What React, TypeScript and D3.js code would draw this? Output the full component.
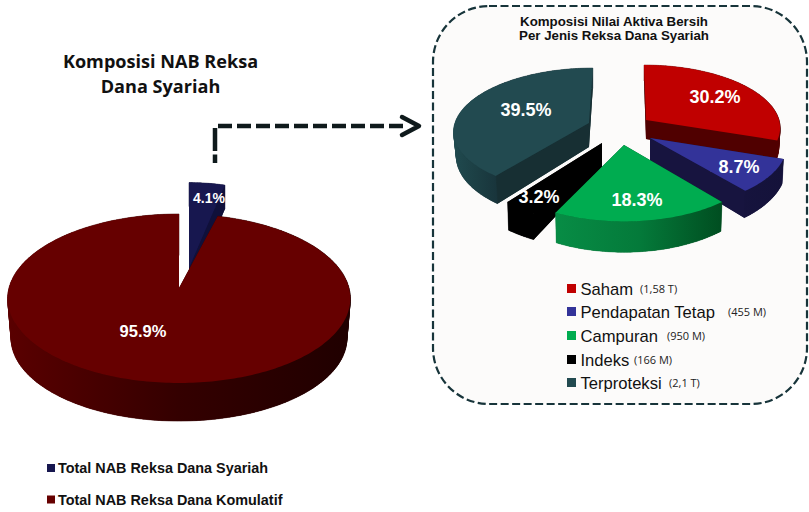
import React from "react";
import * as d3 from "d3";

const W = 809;
const H = 512;

// ---- data ----
const totalLabels = ["Total NAB Reksa Dana Syariah", "Total NAB Reksa Dana Komulatif"];
const totalValues = [4.1, 95.9];
const jenisLabels = ["Saham", "Pendapatan Tetap", "Campuran", "Indeks", "Terproteksi"];
const jenisAmounts = ["(1,58 T)", "(455 M)", "(950 M)", "(166 M)", "(2,1 T)"];
const jenisValues = [30.2, 8.7, 18.3, 3.2, 39.5];
const mainTitle = ["Komposisi NAB Reksa", "Dana Syariah"];
const boxTitle = ["Komposisi Nilai Aktiva Bersih", "Per Jenis Reksa Dana Syariah"];

// ---- styles and layout ----
const SANS = "'Liberation Sans', Arial, sans-serif";
const CAL = "'Open Sans', sans-serif";

type Geo = {
  cx: number; cy: number; R: number; Ry: number; p: number;
  depth: number; k: number; shrink: number; skew: number;
};
type Look = { top: string; cut: string; wall: [string, string, string]; x0: number; x1: number };

const totalGeo: Geo[] = [
  { cx: 189, cy: 268, R: 158, Ry: 96, p: 0.124, depth: 24, k: 0, shrink: 1, skew: 0 },
  { cx: 179, cy: 288, R: 170, Ry: 83.2, p: 0.124, depth: 40, k: 0, shrink: 0.98, skew: 0 },
];
const totalLook: Look[] = [
  { top: "#17174f", cut: "#10103a", wall: ["#10103a", "#10103a", "#10103a"], x0: 189, x1: 225 },
  { top: "#660000", cut: "#300000", wall: ["#5a0000", "#340000", "#200000"], x0: 7, x1: 350 },
];
const jenisGeo: Geo[] = [
  { cx: 646, cy: 120, R: 133, Ry: 61, p: 0.11, depth: 19, k: 2, shrink: 0.99, skew: 0.036 },
  { cx: 650, cy: 138, R: 136, Ry: 63, p: 0.11, depth: 23, k: 2, shrink: 0.99, skew: 0 },
  { cx: 624, cy: 145, R: 140, Ry: 68, p: 0.11, depth: 25, k: 2, shrink: 0.99, skew: 0 },
  { cx: 602, cy: 143, R: 141, Ry: 68, p: 0.11, depth: 24, k: 2, shrink: 0.99, skew: 0 },
  { cx: 589, cy: 123, R: 134, Ry: 61, p: 0.11, depth: 24, k: 2, shrink: 0.98, skew: -0.07 },
];
const jenisLook: Look[] = [
  { top: "#c00000", cut: "#500000", wall: ["#7a0000", "#600000", "#500000"], x0: 644, x1: 782 },
  { top: "#333399", cut: "#17143f", wall: ["#17143f", "#17143f", "#14123a"], x0: 650, x1: 785 },
  { top: "#00ac50", cut: "#004d20", wall: ["#078c45", "#047a3a", "#004d20"], x0: 556, x1: 723 },
  { top: "#000000", cut: "#000000", wall: ["#000000", "#000000", "#000000"], x0: 507, x1: 533 },
  { top: "#224a50", cut: "#172f33", wall: ["#204a4f", "#1c3f44", "#18333a"], x0: 453, x1: 500 },
];
const jenisOrder = [3, 4, 0, 1, 2];
const totalOrder = [0, 1];
const jenisLegendY = [290, 313, 337, 361, 384];
const jenisAmountX = [640, 728, 667, 634, 669];
const totalLegendY = [468, 499.5];
const jenisSwatch = ["#c00000", "#333399", "#00ac50", "#000000", "#224a50"];
const totalSwatch = ["#17174f", "#660000"];
const totalLabelPos: [number, number, number][] = [[209, 203, 14], [143, 337, 16.5]];
const jenisLabelPos: [number, number][] = [[715, 103], [739, 173], [637, 206], [539, 203], [526, 116]];

// ---- projection: a flat disc seen with perspective ----
function top(g: Geo, a: number): [number, number] {
  const u = Math.sin(a), v = Math.cos(a), w = 1 + g.p * v;
  const dy = -(g.Ry * v) / w;
  return [g.cx + (g.R * u) / w + g.skew * dy, g.cy + dy];
}
function bottom(g: Geo, a: number): [number, number] {
  const u = Math.sin(a), v = Math.cos(a), w = 1 + g.p * v;
  const dy = -(g.Ry * v) / w;
  return [
    g.cx + ((g.R * u) / w + g.skew * dy) * g.shrink,
    g.cy + dy * g.shrink + g.depth / Math.pow(w, g.k),
  ];
}
const line = d3.line<[number, number]>().x((d) => d[0]).y((d) => d[1]);

function arcAngles(a0: number, a1: number) {
  const n = Math.max(4, Math.ceil((a1 - a0) / 0.02));
  return d3.range(n + 1).map((i) => a0 + ((a1 - a0) * i) / n);
}

function Slice({ g, look, a0, a1, id }: { g: Geo; look: Look; a0: number; a1: number; id: string }) {
  const angles = arcAngles(a0, a1);
  const topArc = angles.map((a) => top(g, a));
  const botArc = angles.map((a) => bottom(g, a));
  const apexT: [number, number] = [g.cx, g.cy];
  const apexB: [number, number] = [g.cx, g.cy + g.depth];
  // outer wall: one small quad per arc step, so the silhouette stays closed
  const wall = d3.range(angles.length - 1)
    .map((i) => {
      const q = [topArc[i], topArc[i + 1], botArc[i + 1], botArc[i]] as [number, number][];
      const area = d3.polygonArea(q);
      return line(area >= 0 ? q : [...q].reverse()) + "Z";
    })
    .join("");
  const cut0 = [apexT, topArc[0], botArc[0], apexB] as [number, number][];
  const cut1 = [apexT, topArc[topArc.length - 1], botArc[botArc.length - 1], apexB] as [number, number][];
  const face = [apexT, ...topArc];
  const bed = [apexB, ...botArc];
  return (
    <g>
      <defs>
        <linearGradient id={id} gradientUnits="userSpaceOnUse" x1={look.x0} x2={look.x1} y1={0} y2={0}>
          <stop offset="0" stopColor={look.wall[0]} />
          <stop offset="0.5" stopColor={look.wall[1]} />
          <stop offset="1" stopColor={look.wall[2]} />
        </linearGradient>
      </defs>
      <path d={line(bed) + "Z"} fill={look.cut} />
      <path d={line(cut0) + "Z"} fill={look.cut} />
      <path d={line(cut1) + "Z"} fill={look.cut} />
      <path d={wall} fill={`url(#${id})`} stroke={`url(#${id})`} strokeWidth={0.5} />
      <path d={line(face) + "Z"} fill={look.top} />
    </g>
  );
}

const pie = d3.pie<number>().sort(null).value((d) => d);
const totalArcs = pie(totalValues);
const jenisArcs = pie(jenisValues);

export default function App() {
  return (
    <svg width={W} height={H} viewBox={`0 0 ${W} ${H}`} style={{ position: "absolute", left: 0, top: 0, background: "#fff" }}>
      {/* main title */}
      {mainTitle.map((t, i) => (
        <text key={t} x={160.5} y={67.5 + i * 25.5} textAnchor="middle" fontFamily={CAL} fontWeight={700} fontSize={18.1} fill="#111">
          {t}
        </text>
      ))}

      {/* connector */}
      <path d="M215 128V163" fill="none" stroke="#0f1a1c" strokeWidth={4.5} strokeDasharray="23 3.5" />
      <path d="M213 126H407" fill="none" stroke="#0f1a1c" strokeWidth={4.5} strokeDasharray="14 5" strokeDashoffset={-5} />
      <path d="M402 117L419 126L402 135" fill="none" stroke="#0f1a1c" strokeWidth={4.5} strokeLinecap="round" strokeLinejoin="round" />

      {/* left pie */}
      {totalOrder.map((i) => (
        <Slice key={i} id={`t${i}`} g={totalGeo[i]} look={totalLook[i]} a0={totalArcs[i].startAngle} a1={totalArcs[i].endAngle} />
      ))}
      {totalValues.map((v, i) => (
        <text key={i} x={totalLabelPos[i][0]} y={totalLabelPos[i][1]} textAnchor="middle" fontFamily={SANS} fontWeight={700} fontSize={totalLabelPos[i][2]} fill="#fff">
          {v.toFixed(1)}%
        </text>
      ))}

      {/* left legend */}
      {totalLabels.map((t, i) => (
        <g key={t}>
          <rect x={47} y={totalLegendY[i] - 4} width={8} height={8} fill={totalSwatch[i]} />
          <text x={58} y={totalLegendY[i] + 5} fontFamily={SANS} fontWeight={700} fontSize={14.4} fill="#111">
            {t}
          </text>
        </g>
      ))}

      {/* right box */}
      <rect x={433} y={6} width={374} height={398} rx={56} ry={56} fill="#fcfbfa" stroke="#17343a" strokeWidth={2.2} strokeDasharray="8 3.5" />
      {boxTitle.map((t, i) => (
        <text key={t} x={614} y={26 + i * 14} textAnchor="middle" fontFamily={SANS} fontWeight={700} fontSize={13.3} fill="#111">
          {t}
        </text>
      ))}
      {jenisOrder.map((i) => (
        <Slice key={i} id={`j${i}`} g={jenisGeo[i]} look={jenisLook[i]} a0={jenisArcs[i].startAngle} a1={jenisArcs[i].endAngle} />
      ))}
      {jenisValues.map((v, i) => (
        <text key={i} x={jenisLabelPos[i][0]} y={jenisLabelPos[i][1]} textAnchor="middle" fontFamily={SANS} fontWeight={700} fontSize={18} fill="#fff">
          {v.toFixed(1)}%
        </text>
      ))}

      {/* right legend */}
      {jenisLabels.map((t, i) => (
        <g key={t}>
          <rect x={567} y={jenisLegendY[i] - 6} width={9} height={9} fill={jenisSwatch[i]} />
          <text x={580.5} y={jenisLegendY[i] + 5} fontFamily={SANS} fontSize={16.6} fill="#111">
            {t}
          </text>
          <text x={jenisAmountX[i]} y={jenisLegendY[i] + 3} fontFamily={CAL} fontSize={11} fill="#222">
            {jenisAmounts[i]}
          </text>
        </g>
      ))}
    </svg>
  );
}
